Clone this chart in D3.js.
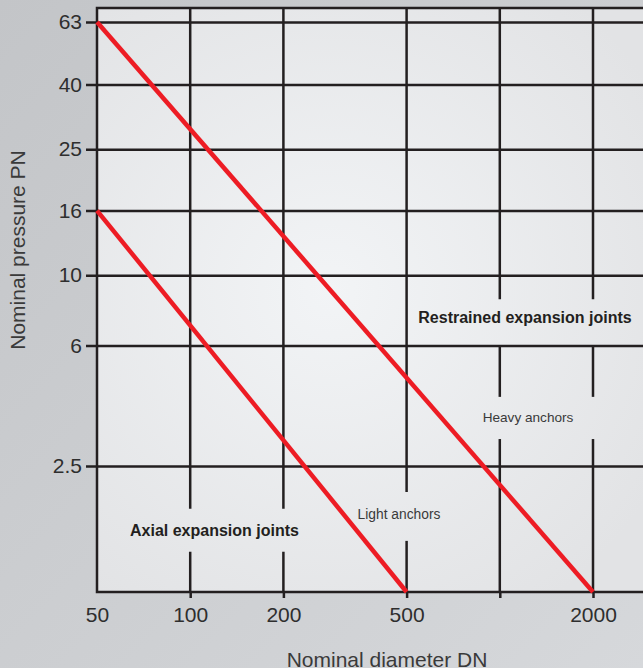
<!DOCTYPE html>
<html><head><meta charset="utf-8">
<script src="https://cdn.jsdelivr.net/npm/d3@7"></script>
<style>html,body{margin:0;padding:0;overflow:hidden;background:#c9cbce}</style>
</head><body>
<svg id="chart" width="643" height="668"></svg>
<script>
// ---- data ----
const dnTicks = [50, 100, 200, 500, 1000, 2000];
const dnLabels = ["50", "100", "200", "500", "", "2000"];
const pnTicks = [63, 40, 25, 16, 10, 6, 2.5];
const pnLabels = ["63", "40", "25", "16", "10", "6", "2.5"];
const restrainedLimit = [{dn: 50, pn: 63}, {dn: 2000, pn: 1}];
const axialLimit = [{dn: 50, pn: 16}, {dn: 500, pn: 1}];
// interruptions of the vertical grid lines (in PN units) where labels sit
const gapDn = [100, 200, 500, 1000, 1000, 2000, 2000];
const gapPnLow = [1.34, 1.34, 1.45, 6, 3.04, 6, 3.04];
const gapPnHigh = [1.83, 1.83, 2.07, 8.4, 4.13, 8.4, 4.13];
const regionLabels = ["Restrained expansion joints", "Heavy anchors", "Light anchors", "Axial expansion joints"];
const axisTitles = ["Nominal diameter DN", "Nominal pressure PN"];

// ---- layout ----
const W = 643, H = 668;
const plotLeft = 97, plotTop = 8, plotBottom = 592;
const svg = d3.select("#chart");
const defs = svg.append("defs");
const bg = defs.append("linearGradient").attr("id", "bg").attr("x1", 0).attr("y1", 0).attr("x2", 1).attr("y2", 1);
bg.append("stop").attr("offset", "0%").attr("stop-color", "#c3c5c8");
bg.append("stop").attr("offset", "55%").attr("stop-color", "#cdcfd2");
bg.append("stop").attr("offset", "100%").attr("stop-color", "#d6d8db");
const pg = defs.append("radialGradient").attr("id", "pg").attr("gradientUnits", "userSpaceOnUse")
  .attr("cx", 330).attr("cy", 290).attr("r", 380);
pg.append("stop").attr("offset", "0%").attr("stop-color", "#f2f4f6");
pg.append("stop").attr("offset", "100%").attr("stop-color", "#e2e3e5");

svg.append("rect").attr("width", W).attr("height", H).attr("fill", "url(#bg)");
svg.append("rect").attr("x", plotLeft).attr("y", plotTop).attr("width", W - plotLeft)
  .attr("height", plotBottom - plotTop).attr("fill", "url(#pg)");

const x = d3.scaleLog().domain([50, 2000]).range([plotLeft, 593]);
const y = d3.scaleLog().domain([1, 63]).range([plotBottom, 22]);

const ink = "#231f20";
const font = "'Liberation Sans', Arial, Helvetica, sans-serif";

// horizontal grid + y tick labels
const yAxis = d3.axisLeft(y).tickValues(pnTicks).tickFormat((d, i) => pnLabels[i])
  .tickSize(W - 86).tickPadding(4);
const gy = svg.append("g").attr("transform", `translate(${W},0)`).call(yAxis);
gy.select(".domain").remove();
gy.selectAll(".tick line").attr("stroke", ink).attr("stroke-width", 2.5);
gy.selectAll(".tick text").attr("font-family", font).attr("font-size", 21).attr("fill", "#2e2e2e");

// vertical grid lines with gaps
dnTicks.slice(1).forEach(dn => {
  const gaps = gapDn.map((g, i) => ({g, lo: gapPnLow[i], hi: gapPnHigh[i]}))
    .filter(o => o.g === dn).map(o => [y(o.hi), y(o.lo)]).sort((a, b) => a[0] - b[0]);
  let start = plotTop;
  const segs = [];
  gaps.forEach(([a, b]) => { segs.push([start, a]); start = b; });
  segs.push([start, plotBottom]);
  svg.append("g").selectAll("line").data(segs).join("line")
    .attr("x1", x(dn)).attr("x2", x(dn)).attr("y1", d => d[0]).attr("y2", d => d[1])
    .attr("stroke", ink).attr("stroke-width", 2.5);
});

// x axis ticks + labels
const xAxis = d3.axisBottom(x).tickValues(dnTicks).tickFormat((d, i) => dnLabels[i])
  .tickSize(6).tickPadding(9);
const gx = svg.append("g").attr("transform", `translate(0,${plotBottom})`).call(xAxis);
gx.select(".domain").remove();
gx.selectAll(".tick line").attr("stroke", ink).attr("stroke-width", 2.5)
  .attr("display", d => d === 50 ? "none" : null);
gx.selectAll(".tick text").attr("font-family", font).attr("font-size", 21).attr("fill", "#2e2e2e");

// frame
svg.append("path")
  .attr("d", `M${W},${plotTop}H${plotLeft}V${plotBottom}H${W}`)
  .attr("fill", "none").attr("stroke", ink).attr("stroke-width", 2.5);

// limit lines
const line = d3.line().x(d => x(d.dn)).y(d => y(d.pn));
[restrainedLimit, axialLimit].forEach(data => {
  svg.append("path").datum(data).attr("d", line)
    .attr("fill", "none").attr("stroke", "#ed1c24").attr("stroke-width", 4.5).attr("stroke-linecap", "butt");
});

// region labels
const lab = [
  {t: regionLabels[0], x: 525, y: 322.5, bold: true, size: 16},
  {t: regionLabels[1], x: 528, y: 422, bold: false, size: 13.6},
  {t: regionLabels[2], x: 399, y: 519, bold: false, size: 13.8},
  {t: regionLabels[3], x: 214.5, y: 535.8, bold: true, size: 16}
];
svg.append("g").selectAll("text").data(lab).join("text")
  .attr("x", d => d.x).attr("y", d => d.y).attr("text-anchor", "middle")
  .attr("font-family", font).attr("font-size", d => d.size)
  .attr("font-weight", d => d.bold ? "bold" : "normal")
  .attr("fill", d => d.bold ? ink : "#3a3a3a").text(d => d.t);

// axis titles
svg.append("text").attr("x", 387).attr("y", 667).attr("text-anchor", "middle")
  .attr("font-family", font).attr("font-size", 21).attr("fill", "#3a3a3a").text(axisTitles[0]);
svg.append("text").attr("transform", "translate(25,250) rotate(-90)").attr("text-anchor", "middle")
  .attr("font-family", font).attr("font-size", 21).attr("fill", "#3a3a3a").text(axisTitles[1]);
</script>
</body></html>
